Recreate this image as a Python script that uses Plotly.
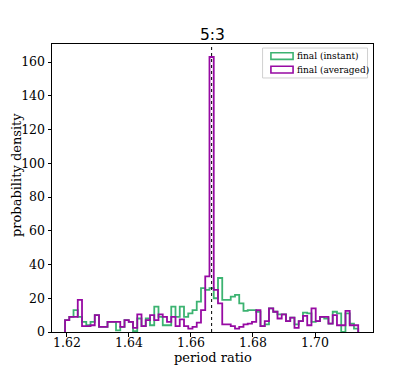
import plotly.graph_objects as go

# histogram binning
BIN_START = 1.6194
BIN_WIDTH = 0.00137

# probability density per bin
instant = [7, 9, 13, 9, 6, 4, 6, 10, 3, 3,
           6, 6, 1, 3, 7, 6, 0.5, 8, 3.5, 8,
           4, 15, 9, 4, 4, 15, 9, 15, 9, 11,
           13, 18, 26, 25, 26, 20, 32, 19, 19, 21,
           22, 17, 12.5, 13, 13, 12, 3.5, 4.5, 14, 12,
           10.5, 10.5, 6.5, 8.5, 4.5, 6.5, 11.5, 11, 6, 6.5,
           9, 8, 5, 12, 11, 0, 11, 5, 2]
averaged = [7, 9, 9, 19, 3.5, 3.5, 4, 10, 3, 3,
            6, 6, 6, 3, 7, 6, 2.5, 10.5, 3.5, 7,
            10, 7, 10.5, 9, 6, 9, 3.5, 7.5, 3.5, 2,
            3, 5.5, 13, 33, 163, 25, 17, 4.5, 4.5, 3.5,
            2, 3, 4.5, 5, 6, 13, 3.5, 6.5, 14, 12,
            8, 10.5, 6.5, 8.5, 2.5, 6.5, 9.5, 4, 14, 6.5,
            9, 9, 5, 10, 4, 4, 12.5, 4, 4]

resonance = 5 / 3
title_text = "5:3"
x_label = "period ratio"
y_label = "probability density"
x_ticks = [1.62, 1.64, 1.66, 1.68, 1.70]
x_tick_labels = ["1.62", "1.64", "1.66", "1.68", "1.70"]
y_ticks = [0, 20, 40, 60, 80, 100, 120, 140, 160]
legend_items = ["final (instant)", "final (averaged)"]

GREEN = "#3cb371"
PURPLE = "#970aa3"
legend_colors = [GREEN, PURPLE]


def step_xy(vals):
    edges = [BIN_START + i * BIN_WIDTH for i in range(len(vals) + 1)]
    xs = [edges[0]] + edges[:-1] + [edges[-1]]
    ys = [0] + list(vals) + [0]
    return xs, ys


fig = go.Figure()
for vals, col in [(instant, GREEN), (averaged, PURPLE)]:
    xs, ys = step_xy(vals)
    fig.add_trace(go.Scatter(x=xs, y=ys, mode="lines", line_shape="hv",
                             line=dict(color=col, width=1.8),
                             showlegend=False, hoverinfo="skip"))

fig.add_vline(x=resonance, line=dict(color="black", width=1, dash="dot"))

serif = "DejaVu Serif"

# legend box drawn like the matplotlib one (paper coordinates)
fig.add_shape(type="rect", xref="paper", yref="paper",
              x0=0.656, x1=0.983, y0=0.882, y1=0.986,
              line=dict(color="#d0d0d0", width=1), fillcolor="white", layer="above")
for i, (lab, col) in enumerate(zip(legend_items, legend_colors)):
    yc = 0.958 - i * 0.047
    fig.add_shape(type="rect", xref="paper", yref="paper",
                  x0=0.682, x1=0.751, y0=yc - 0.0115, y1=yc + 0.0115,
                  line=dict(color=col, width=1.6), fillcolor="rgba(0,0,0,0)", layer="above")
    fig.add_annotation(text=lab, xref="paper", yref="paper", x=0.757, y=yc,
                       xanchor="left", yanchor="middle", showarrow=False,
                       font=dict(family=serif, size=9, color="black"))

# x tick labels
for xv, lab in zip(x_ticks, x_tick_labels):
    fig.add_annotation(text=lab, xref="x", yref="paper", x=xv, y=0, yshift=-10.5,
                       xanchor="center", yanchor="middle", showarrow=False, borderpad=0,
                       font=dict(family=serif, size=12.5, color="black"))

# axis titles and title
fig.add_annotation(text=x_label, xref="paper", yref="paper", x=0.5, y=0, yshift=-25.5,
                   xanchor="center", yanchor="middle", showarrow=False, borderpad=0,
                   font=dict(family=serif, size=13, color="black"))
fig.add_annotation(text=y_label, xref="paper", yref="paper", x=0, xshift=-36, y=0.545,
                   xanchor="center", yanchor="middle", showarrow=False, textangle=-90,
                   borderpad=0, font=dict(family=serif, size=13, color="black"))
fig.add_annotation(text=title_text, xref="paper", yref="paper", x=0.5, y=1, yshift=9,
                   xanchor="center", yanchor="middle", showarrow=False,
                   font=dict(family="DejaVu Sans", size=15.5, color="black"))

# the page adds an 8px body margin: plot area sits at x 52-373, y 44-332 in the window
fig.update_layout(
    width=415, height=374,
    margin=dict(l=44, r=50, t=36, b=50, autoexpand=False),
    paper_bgcolor="white", plot_bgcolor="white",
    font=dict(family=serif, color="black"),
    showlegend=False,
)
fig.update_xaxes(range=[1.6152, 1.7187], tickvals=x_ticks, showticklabels=False,
                 automargin=False,
                 showgrid=False, zeroline=False, showline=True, mirror=True,
                 linecolor="black", linewidth=1, ticks="outside", ticklen=3.5,
                 tickcolor="black")
fig.update_yaxes(range=[0, 170.7], tickvals=y_ticks, automargin=False,
                 showgrid=False, zeroline=False, showline=True, mirror=True,
                 linecolor="black", linewidth=1, ticks="outside", ticklen=3.5,
                 tickcolor="black", tickfont=dict(family=serif, size=12.5))

fig.write_html("out.html")
